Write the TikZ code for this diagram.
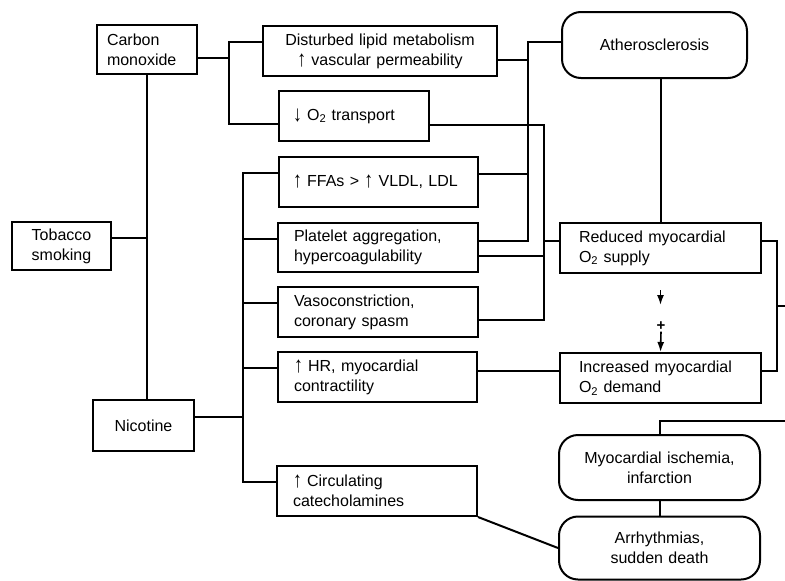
\documentclass[tikz,border=0pt]{standalone}
\usepackage{fontspec}
\setmainfont{Liberation Sans}
\usetikzlibrary{arrows.meta}
\tikzset{box/.style={draw, line width=2pt, inner ysep=2pt, align=left, font=\fontsize{16}{20}\selectfont},
  rbox/.style={box, rounded corners=19pt, align=center},
  link/.style={line width=2pt},
  down/.style={-{Latex[length=10pt,width=7pt]}, line width=1.6pt}}
\newcommand{\incr}{\raisebox{-1pt}{\scalebox{1.1}[1.4]{\textbf{↑}}}}
\newcommand{\decr}{\raisebox{-1pt}{\scalebox{1.1}[1.4]{\textbf{↓}}}}

\begin{document}
\begin{tikzpicture}[x=1pt,y=-1pt]
\useasboundingbox (0,0) rectangle (785,581);
% left column
\node (co) at (147,49.5) [box, text width=80pt, inner xsep=10pt, minimum height=49pt] {Carbon\\monoxide};
\node (tob) at (61.5,246) [box, text width=83pt, inner xsep=8pt, minimum height=48pt, align=center] {Tobacco\\smoking};
\node (nic) at (143.5,425.5) [box, text width=85pt, inner xsep=8pt, minimum height=51pt, align=center] {Nicotine};
% middle column
\node (lipid) at (380,51) [box, text width=214pt, inner xsep=10pt, minimum height=50pt, align=center] {Disturbed lipid metabolism\\\incr\ vascular permeability};
\node (otrans) at (354,116) [box, text width=122pt, inner xsep=14pt, minimum height=50pt] {\decr\ O\textsubscript{2} transport};
\node (ffa) at (378.5,182) [box, text width=171pt, inner xsep=14pt, minimum height=50pt] {\incr\ FFAs > \incr\ VLDL, LDL};
\node (plate) at (378,247.5) [box, text width=168pt, inner xsep=16pt, minimum height=49pt] {Platelet aggregation,\\hypercoagulability};
\node (vaso) at (378,312) [box, text width=168pt, inner xsep=16pt, minimum height=50pt] {Vasoconstriction,\\coronary spasm};
\node (hr) at (377.5,377) [box, text width=167pt, inner xsep=16pt, minimum height=50pt] {\incr\ HR, myocardial\\contractility};
\node (cat) at (377,491) [box, text width=168pt, inner xsep=16pt, minimum height=50pt] {\incr\ Circulating\\catecholamines};
% right column
\node (ath) at (654.5,45) [rbox, text width=165pt, inner xsep=10pt, minimum height=66pt] {Atherosclerosis};
\node (red) at (660.5,248) [box, text width=163pt, inner xsep=19pt, minimum height=50pt] {Reduced myocardial\\O\textsubscript{2} supply};
\node (inc) at (660.5,378) [box, text width=163pt, inner xsep=19pt, minimum height=50pt] {Increased myocardial\\O\textsubscript{2} demand};
\node (isch) at (659.5,467.5) [rbox, text width=181pt, inner xsep=10pt, minimum height=65pt] {Myocardial ischemia,\\infarction};
\node (arr) at (659.5,548) [rbox, text width=181pt, inner xsep=10pt, minimum height=63pt] {Arrhythmias,\\sudden death};
\node (plus) at (661,326) [inner sep=1pt, font=\fontsize{15}{15}\selectfont\bfseries] {+};

% carbon monoxide
\coordinate (j1) at (229,58);
\draw[link] ([yshift=-8.5pt]co.east) -- (j1);
\draw[link] ([yshift=9pt]lipid.west) -| (j1) |- ([yshift=-8pt]otrans.west);
\draw[link] (co.south) -- (co.south |- nic.north);
\draw[link] ([yshift=8pt]tob.east) -- ([yshift=8pt]tob.east -| co.south);
% nicotine
\coordinate (j2) at (243,417);
\draw[link] ([yshift=8.5pt]nic.east) -- (j2);
\draw[link] ([yshift=9pt]ffa.west) -| (j2) |- ([yshift=9pt]cat.west);
\foreach \n in {plate,vaso,hr}
  \draw[link] ([yshift=9pt]\n.west) -- ([yshift=9pt]\n.west -| j2);
% to atherosclerosis
\coordinate (j3) at (528,42);
\draw[link] ([yshift=3pt]ath.west) -- (j3) |- ([yshift=6.5pt]plate.east);
\draw[link] ([yshift=-9pt]lipid.east) -- ([yshift=-9pt]lipid.east -| j3);
\draw[link] ([yshift=8pt]ffa.east) -- ([yshift=8pt]ffa.east -| j3);
% to reduced supply
\coordinate (j4) at (544,125);
\draw[link] ([yshift=-9pt]otrans.east) -- (j4) |- ([yshift=-8pt]vaso.east);
\draw[link] ([yshift=-8.5pt]plate.east) -- ([yshift=-8.5pt]plate.east -| j4);
\draw[link] ([yshift=7pt]red.west) -- ([yshift=7pt]red.west -| j4);
\draw[link] (red.north) -- (red.north |- ath.south);
\draw[link] ([yshift=6pt]hr.east) -- ([yshift=6pt]hr.east -| inc.west);
\draw[down] ([yshift=-16pt]red.south) -- ([yshift=-31pt]red.south);
\draw[down] (plus.south) -- (inc.north);
% to ischemia
\coordinate (j5) at (777,306);
\coordinate (e1) at (785,306);
\coordinate (e2) at (785,421);
\draw[link] ([yshift=7pt]red.east) -| (j5) |- ([yshift=7pt]inc.east);
\draw[link] (j5) -- (e1);
\draw[link] (isch.north) |- (e2);
\draw[link] (isch.south) -- (arr.north);
\draw[link] (cat.south east) -- (arr.west);
\end{tikzpicture}
\end{document}
